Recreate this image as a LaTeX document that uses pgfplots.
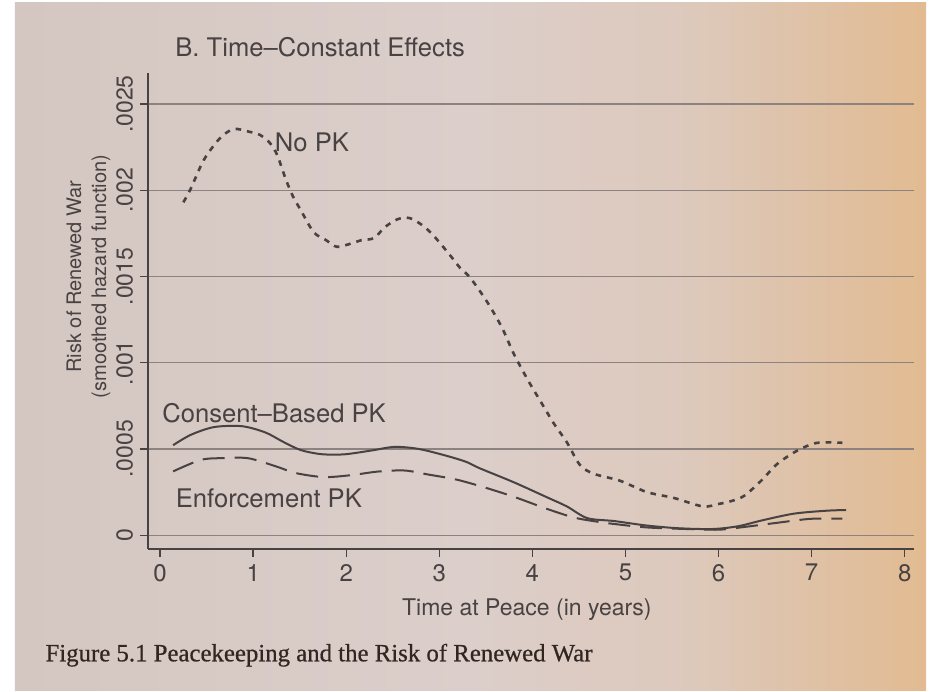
\documentclass[border=0pt]{standalone}
\usepackage{pgfplots}
\pgfplotsset{compat=1.18}
\usepackage{fontspec}
\setmainfont{TeX Gyre Heros}
\newfontfamily\capfont[FakeBold=0.6]{Liberation Serif}
\definecolor{ink}{RGB}{72,66,66}
\definecolor{gridc}{RGB}{140,130,128}
\definecolor{capc}{RGB}{50,38,34}
\definecolor{pA}{RGB}{212,198,192}
\definecolor{pB}{RGB}{220,206,202}
\definecolor{pC}{RGB}{221,201,188}
\definecolor{pD}{RGB}{223,193,165}
\definecolor{pE}{RGB}{226,187,145}
\pgfdeclarehorizontalshading{paper}{100bp}{color(0bp)=(pA); color(25bp)=(pA); color(50bp)=(pB); color(62bp)=(pC); color(69bp)=(pD); color(75bp)=(pE); color(100bp)=(pE)}
\begin{document}
\begin{tikzpicture}
\useasboundingbox (-74bp,-71.5bp) rectangle (391bp,274.5bp);
\fill[white] (-74bp,-71.5bp) rectangle (391bp,274.5bp);
\shade[shading=paper] (-66.5bp,-70.5bp) rectangle (389bp,273bp);
\begin{axis}[
  scale only axis, width=383bp, height=238bp,
  xmin=-0.13, xmax=8.1, ymin=-0.00008, ymax=0.00268,
  axis lines*=left, axis line style={ink, line width=0.8bp, -},
  xtick={0,1,2,3,4,5,6,7,8},
  ytick={0,0.0005,0.001,0.0015,0.002,0.0025},
  yticklabels={0,.0005,.001,.0015,.002,.0025},
  scaled y ticks=false,
  tick align=outside, major tick length=4bp,
  tick style={ink, line width=0.7bp},
  ymajorgrids, grid style={gridc, line width=0.6bp},
  yticklabel style={rotate=90, anchor=south, font=\fontsize{11.5bp}{12bp}\selectfont, text=ink},
  xticklabel style={font=\fontsize{12bp}{13bp}\selectfont, text=ink},
  /pgf/number format/assume math mode=true,
  clip=false,
]
\addplot[ink, line width=1.3bp, dash pattern=on 2.8bp off 3bp, smooth] coordinates {
(0.25,0.00193) (0.33,0.00201) (0.47,0.002176) (0.64,0.0023) (0.79,0.002355)
(0.96,0.002339) (1.07,0.002322) (1.18,0.002274) (1.26,0.002202) (1.35,0.002064)
(1.43,0.001962) (1.51,0.001886) (1.65,0.001757) (1.78,0.001712) (1.90,0.001672)
(2.05,0.001691) (2.16,0.00171) (2.30,0.001723) (2.41,0.001784) (2.55,0.001832)
(2.68,0.001839) (2.81,0.0018) (2.93,0.001742) (3.11,0.001627) (3.22,0.001552)
(3.33,0.001494) (3.51,0.001356) (3.67,0.001207) (3.80,0.001052) (3.95,0.000901)
(4.09,0.000774) (4.23,0.000648) (4.37,0.000539) (4.51,0.000408) (4.66,0.000356)
(4.94,0.000316) (5.23,0.00025) (5.52,0.000216) (5.83,0.000167) (6.00,0.000181)
(6.15,0.0002) (6.28,0.00023) (6.46,0.000317) (6.63,0.000413) (6.84,0.000489)
(7.02,0.000531) (7.15,0.000538) (7.33,0.000536)
};
\addplot[ink, line width=1bp, smooth] coordinates {
(0.14,0.000522) (0.33,0.000582) (0.58,0.000627) (0.88,0.000632) (1.13,0.000596)
(1.32,0.000542) (1.51,0.000494) (1.73,0.00047) (1.98,0.000469) (2.27,0.000491)
(2.52,0.000512) (2.78,0.0005) (3.08,0.00046) (3.29,0.000425) (3.43,0.000389)
(3.80,0.000307) (4.16,0.000219) (4.37,0.000167) (4.59,0.000099) (4.88,0.000082)
(5.23,0.000056) (5.58,0.00004) (5.94,0.000036) (6.21,0.000052) (6.46,0.000085)
(6.81,0.000125) (7.16,0.000142) (7.37,0.000146)
};
\addplot[ink, line width=1bp, dash pattern=on 11bp off 5bp, smooth] coordinates {
(0.14,0.00037) (0.44,0.000437) (0.69,0.000447) (0.95,0.000446) (1.24,0.0004)
(1.46,0.00036) (1.76,0.000337) (2.05,0.000348) (2.34,0.000369) (2.63,0.000375)
(2.89,0.000351) (3.18,0.000323) (3.48,0.000278) (3.80,0.000223) (4.16,0.000152)
(4.45,0.000102) (4.69,0.000079) (4.88,0.000065) (5.23,0.000045) (5.65,0.000036)
(6.00,0.000032) (6.28,0.000048) (6.63,0.000072) (6.99,0.000095) (7.33,0.000096)
};
\node[anchor=base west, inner sep=0pt, font=\fontsize{12.8bp}{14bp}\selectfont, text=ink] at (axis cs:1.23,0.002226) {No PK};
\node[anchor=base west, inner sep=0pt, font=\fontsize{12.8bp}{14bp}\selectfont, text=ink] at (axis cs:0.02,0.000652) {Consent\textendash Based PK};
\node[anchor=base west, inner sep=0pt, font=\fontsize{12.8bp}{14bp}\selectfont, text=ink] at (axis cs:0.165,0.000162) {Enforcement PK};
\node[anchor=base west, inner sep=0pt, font=\fontsize{12.8bp}{14bp}\selectfont, text=ink] at (axis cs:0.16,0.002773) {B. Time\textendash Constant Effects};
\node[anchor=base, inner sep=0pt, font=\fontsize{11.5bp}{13bp}\selectfont, text=ink] at (axis cs:3.94,-0.000464) {Time at Peace (in years)};
\node[rotate=90, align=center, font=\fontsize{10bp}{12.5bp}\selectfont, text=ink] at (axis cs:-0.77,0.0015) {Risk of Renewed War\\(smoothed hazard function)};
\node[anchor=base west, inner sep=0pt, font=\capfont\fontsize{12.4bp}{14bp}\selectfont, text=capc] at (axis cs:-1.235,-0.000731) {Figure 5.1 Peacekeeping and the Risk of Renewed War};
\end{axis}
\end{tikzpicture}
\end{document}
